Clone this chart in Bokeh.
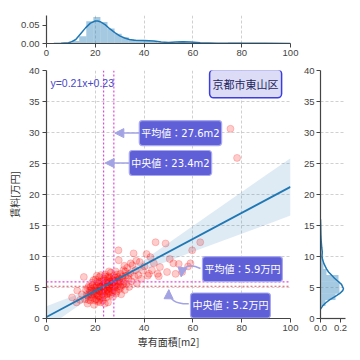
from bokeh.plotting import figure
from bokeh.layouts import column, row
from bokeh.models import (Span, Label, Arrow, NormalHead, FixedTicker,
                          NumeralTickFormatter, Range1d, Spacer)
from bokeh.embed import file_html
from bokeh.resources import INLINE

# ---------------- data ----------------
area = [10.5, 12.3, 12.6, 15.3, 14.5, 15.8, 16.2, 16.8, 17.0, 17.3, 17.6, 18.0, 18.2, 18.5, 18.7,
        19.0, 19.2, 19.5, 19.6, 19.8, 20.0, 20.1, 20.3, 20.5, 20.7, 21.0, 21.1, 21.3, 21.5, 21.7,
        21.9, 22.0, 22.2, 22.4, 22.6, 22.8, 23.0, 23.1, 23.3, 23.5, 23.6, 23.8, 24.0, 24.1, 24.3,
        24.5, 24.7, 24.9, 25.0, 25.2, 25.4, 25.6, 25.8, 26.0, 26.2, 26.4, 26.6, 26.8, 27.0, 27.2,
        27.4, 27.6, 27.8, 28.0, 28.3, 28.5, 28.8, 29.0, 29.3, 29.6, 29.5, 29.8, 30.0, 30.3, 30.6,
        30.9, 31.2, 31.5, 31.8, 32.1, 32.4, 32.8, 33.1, 33.5, 33.9, 34.3, 34.8, 35.2, 35.7, 36.0,
        36.5, 37.0, 37.6, 38.2, 38.8, 39.5, 40.2, 41.0, 41.5, 42.6, 43.2, 44.0, 44.7, 45.5, 46.5,
        48.8, 49.4, 50.5, 52.0, 52.9, 54.2, 55.6, 58.0, 59.7, 63.0, 75.4, 78.1,
        19.3, 20.8, 22.3, 23.9, 24.6, 25.9, 26.9, 21.6, 18.9, 22.9, 24.4, 20.4, 23.4, 25.3, 26.5,
        27.9, 28.9, 21.8, 17.9, 16.5, 13.8, 30.5, 31.9, 34.5, 36.8, 42.0, 46.0, 59.0,
        18.1, 19.4, 20.2, 20.9, 21.4, 21.9, 22.5, 22.7, 23.2, 23.7, 24.2, 24.8, 25.1, 25.5, 25.7,
        26.1, 26.3, 26.7, 27.1, 27.3, 27.7, 28.1, 28.4, 28.7, 29.1, 29.4, 29.9, 30.2, 31.0, 31.6,
        32.3, 19.9, 18.4, 17.2, 16.9, 20.6, 22.1, 24.0, 25.6, 33.4]
rent = [3.4, 2.6, 4.5, 6.7, 3.9, 3.1, 4.6, 2.4, 3.6, 5.2, 4.1, 2.9, 3.9, 4.7, 5.8,
        3.3, 4.3, 2.2, 5.0, 3.8, 4.6, 6.3, 3.1, 5.3, 4.0, 4.8, 2.7, 5.7, 3.6, 6.7,
        4.4, 5.1, 3.3, 4.7, 6.0, 4.0, 5.4, 2.9, 4.9, 6.4, 3.7, 5.7, 4.3, 7.1, 5.1,
        3.4, 6.1, 4.6, 5.5, 2.6, 6.8, 4.1, 5.0, 5.9, 3.8, 7.4, 4.8, 6.3, 5.3, 3.5,
        5.8, 6.9, 4.5, 5.5, 7.6, 4.0, 6.2, 5.1, 6.7, 9.4, 11.0, 4.7, 5.9, 7.2, 3.9,
        6.5, 5.4, 7.8, 6.0, 4.6, 6.9, 5.6, 8.2, 6.4, 5.1, 7.3, 6.0, 8.6, 10.5, 6.8,
        7.8, 5.7, 7.0, 9.1, 6.4, 7.7, 8.4, 10.4, 6.9, 9.9, 7.8, 8.9, 12.3, 7.2, 8.3,
        12.1, 7.5, 9.6, 8.9, 7.2, 8.8, 7.5, 8.4, 11.0, 12.3, 30.6, 25.9,
        6.2, 5.9, 7.0, 2.4, 4.0, 6.6, 4.2, 3.0, 5.4, 3.4, 5.8, 4.3, 4.5, 5.2, 5.6,
        6.1, 7.1, 5.2, 4.5, 3.8, 3.0, 5.0, 8.5, 8.9, 9.3, 7.2, 6.8, 8.9,
        5.1, 4.0, 5.0, 3.7, 4.5, 5.9, 4.3, 5.2, 6.1, 4.8, 5.5, 3.9, 6.5, 4.4, 5.4,
        4.9, 6.0, 5.5, 4.6, 6.2, 5.0, 6.6, 5.3, 4.3, 6.0, 5.6, 6.4, 5.2, 6.8, 5.7,
        7.6, 2.9, 3.4, 3.0, 4.9, 6.9, 2.6, 6.8, 7.6, 7.0]

slope, intercept = 0.21, 0.23
fit_x = [0, 100]
ci_x = [0, 5, 10, 15, 20, 25, 27.6, 30, 35, 40, 50, 60, 70, 80, 90, 100]
ci_half = [1.75, 1.45, 1.12, 0.82, 0.5, 0.22, 0.15, 0.2, 0.5, 0.8, 1.45, 2.08, 2.72, 3.36, 4.0, 4.62]

mean_area, median_area = 27.6, 23.4
mean_rent, median_rent = 5.9, 5.2

# top marginal (area distribution)
hx_left = [10.5, 13.4, 16.3, 19.2, 22.1, 25.0, 27.9, 30.8, 33.7, 36.6, 39.5, 42.4, 45.3, 48.2,
           51.1, 54.0, 56.9, 59.8, 74.4, 77.3]
hx_dens = [0.007, 0.020, 0.061, 0.073, 0.059, 0.041, 0.027, 0.017, 0.012, 0.009, 0.008, 0.006,
           0.003, 0.003, 0.003, 0.006, 0.003, 0.003, 0.003, 0.003]
hx_width = 2.9
kx = [3, 6, 9, 10, 12, 14, 16, 18, 20, 21, 22, 24, 26, 28, 30, 32, 34, 36, 40, 44, 47, 50, 53,
      56, 59, 63, 70, 80, 90, 100]
kx_d = [0.0, 0.0004, 0.002, 0.004, 0.011, 0.027, 0.043, 0.056, 0.062, 0.062, 0.060, 0.052,
        0.040, 0.030, 0.021, 0.015, 0.011, 0.009, 0.008, 0.007, 0.004, 0.003, 0.004, 0.005,
        0.004, 0.002, 0.001, 0.0005, 0.0004, 0.0003]

# right marginal (rent distribution)
hy_bottom = [2.0, 3.0, 4.0, 5.0, 6.0, 7.0, 8.0, 9.0, 10.0, 11.0, 12.0]
hy_dens = [0.05, 0.15, 0.19, 0.19, 0.18, 0.06, 0.03, 0.02, 0.01, 0.012, 0.006]
hy_height = 1.0
ky = [1.5, 2.0, 2.5, 3.0, 3.5, 4.0, 4.5, 4.8, 5.5, 6.0, 6.5, 7.0, 7.5, 8.0, 8.5, 9.0, 9.6,
      10.0, 10.7, 11.5, 12.5, 13.5, 15.0, 16.0]
ky_d = [0.0, 0.02, 0.05, 0.09, 0.14, 0.19, 0.222, 0.23, 0.21, 0.175, 0.14, 0.11, 0.08, 0.06,
        0.045, 0.03, 0.02, 0.015, 0.018, 0.012, 0.007, 0.004, 0.002, 0.0]

x_ticks = [0, 20, 40, 60, 80, 100]
y_ticks = [0, 5, 10, 15, 20, 25, 30, 35, 40]

# ---------------- styling helpers ----------------
BLUE = "#1f77b4"
AX = "#444444"
TICKFONT = "Liberation Sans"
JP = "Noto Sans CJK JP"
BOXFONT = "DejaVu Sans, Noto Sans CJK JP"


def style(p):
    p.outline_line_color = None
    p.background_fill_color = "white"
    p.border_fill_color = "white"
    for ax in p.axis:
        ax.axis_line_color = AX
        ax.axis_line_width = 1.2
        ax.major_tick_line_color = AX
        ax.major_tick_line_width = 1
        ax.major_tick_out = 4
        ax.major_tick_in = 0
        ax.minor_tick_line_color = None
        ax.major_label_text_font = TICKFONT
        ax.major_label_text_font_size = "9.5px"
        ax.major_label_text_color = AX
        ax.major_label_standoff = 2
    for g in p.grid:
        g.grid_line_color = "#c4c4c4"
        g.grid_line_dash = "3 2"
        g.grid_line_width = 0.8


# ---------------- main figure ----------------
main = figure(width=300, height=288, output_backend="svg", toolbar_location=None,
              x_range=Range1d(0, 100), y_range=Range1d(0, 40),
              min_border_left=46, min_border_right=10, min_border_top=6, min_border_bottom=34)
style(main)
main.xaxis.ticker = FixedTicker(ticks=x_ticks)
main.yaxis.ticker = FixedTicker(ticks=y_ticks)
main.yaxis.major_label_standoff = 3
main.xaxis.major_label_standoff = 2
main.xaxis.axis_label = "専有面積[m2]"
main.yaxis.axis_label = "賃料[万円]"
for ax in (main.xaxis[0], main.yaxis[0]):
    ax.axis_label_text_font = JP
    ax.axis_label_text_font_size = "10px"
    ax.axis_label_text_font_style = "normal"
    ax.axis_label_text_color = "#333333"
main.xaxis.axis_label_standoff = 0
main.yaxis.axis_label_standoff = 4

main.scatter(area, rent, size=7, color="red", alpha=0.2)

ci_lo = [slope * x + intercept - h for x, h in zip(ci_x, ci_half)]
ci_hi = [slope * x + intercept + h for x, h in zip(ci_x, ci_half)]
main.varea(x=ci_x, y1=ci_lo, y2=ci_hi, fill_color=BLUE, fill_alpha=0.15)
main.line(fit_x, [slope * x + intercept for x in fit_x], line_color=BLUE, line_width=1.8)

MAG = "#e048e0"
main.add_layout(Span(location=median_area, dimension="height", line_color=MAG,
                     line_dash="2 2", line_width=1.2))
main.add_layout(Span(location=mean_area, dimension="height", line_color=MAG,
                     line_dash="2 2", line_width=1.2))
main.add_layout(Span(location=mean_rent, dimension="width", line_color=MAG,
                     line_dash="2 2", line_width=1.2))
main.add_layout(Span(location=median_rent, dimension="width", line_color="#f04a60",
                     line_dash="2 2", line_width=1.2))

ARC = "#a3a3e4"
BOX = "#5f5fd8"
BOXEDGE = "#a8a8f0"

# straight arrows to the vertical lines
main.add_layout(Arrow(x_start=38.5, y_start=29.9, x_end=28.0, y_end=29.9, line_color=ARC,
                      line_width=1.5, end=NormalHead(size=9, fill_color=ARC, line_color=ARC)))
main.add_layout(Arrow(x_start=33.8, y_start=25.08, x_end=24.0, y_end=25.08, line_color=ARC,
                      line_width=1.5, end=NormalHead(size=9, fill_color=ARC, line_color=ARC)))

# curved arrows to the horizontal lines
curves = dict(x0=[63.1, 58.3], y0=[8.06, 2.37], x1=[55.2, 50.1], y1=[6.77, 4.63],
              cx=[56.2, 50.0], cy=[9.35, 2.3])
main.quadratic(x0=curves["x0"], y0=curves["y0"], x1=curves["x1"], y1=curves["y1"],
               cx=curves["cx"], cy=curves["cy"], line_color=ARC, line_width=1.5)
for i in range(2):
    main.add_layout(Arrow(x_start=curves["cx"][i], y_start=curves["cy"][i],
                          x_end=curves["x1"][i], y_end=curves["y1"][i], line_alpha=0,
                          end=NormalHead(size=9, fill_color=ARC, line_color=ARC)))


def box_label(x, y, text):
    main.add_layout(Label(x=x, y=y, text=text, text_font=BOXFONT, text_font_size="10px",
                          text_color="white", text_align="center", text_baseline="middle",
                          background_fill_color=BOX, background_fill_alpha=1.0,
                          border_line_color=BOXEDGE, border_line_width=1.2,
                          padding=(2, 7), border_radius=3))


box_label(54.9, 29.9, "平均値：27.6m2")
box_label(50.8, 25.08, "中央値：23.4m2")
box_label(80.3, 7.95, "平均値：5.9万円")
box_label(75.4, 2.1, "中央値：5.2万円")

main.add_layout(Label(x=81.6, y=37.85, text="京都市東山区", text_font=JP, text_font_size="11px",
                      text_color="#25255e", text_align="center", text_baseline="middle",
                      background_fill_color="#dcdcf6", background_fill_alpha=1.0,
                      border_line_color="#3c3ce0", border_line_width=1.5,
                      padding=(3, 6), border_radius=4))
main.add_layout(Label(x=1.6, y=37.95, text="y=0.21x+0.23", text_font=TICKFONT,
                      text_font_size="10.5px", text_color="#4848c8",
                      text_align="left", text_baseline="middle"))

# ---------------- top marginal ----------------
top = figure(width=300, height=64, output_backend="svg", toolbar_location=None,
             x_range=main.x_range, y_range=Range1d(0, 0.077),
             min_border_left=46, min_border_right=10, min_border_top=15, min_border_bottom=21)
style(top)
top.ygrid.visible = False
top.xaxis.ticker = FixedTicker(ticks=x_ticks)
top.yaxis.ticker = FixedTicker(ticks=[0, 0.05])
top.yaxis.formatter = NumeralTickFormatter(format="0.00")
top.yaxis.major_label_standoff = 3
top.vbar(x=[l + hx_width / 2 for l in hx_left], top=hx_dens, width=hx_width,
         fill_color=BLUE, fill_alpha=0.4, line_color=None)
top.line(kx, kx_d, line_color=BLUE, line_width=1.5)

# ---------------- right marginal ----------------
right = figure(width=52, height=288, output_backend="svg", toolbar_location=None,
               x_range=Range1d(0, 0.25), y_range=main.y_range,
               min_border_left=18, min_border_right=7, min_border_top=6, min_border_bottom=34)
style(right)
right.xgrid.visible = False
right.xaxis.ticker = FixedTicker(ticks=[0, 0.2])
right.xaxis.formatter = NumeralTickFormatter(format="0.0")
right.yaxis.ticker = FixedTicker(ticks=y_ticks)
right.yaxis.major_label_standoff = 2
right.hbar(y=[b + hy_height / 2 for b in hy_bottom], left=0, right=hy_dens, height=hy_height,
           fill_color=BLUE, fill_alpha=0.4, line_color=None)
right.line(ky_d, ky, line_color=BLUE, line_width=1.5)

layout = column(row(top, Spacer(width=52, height=64)), row(main, right))

open("out.html", "w").write(file_html(layout, INLINE))
